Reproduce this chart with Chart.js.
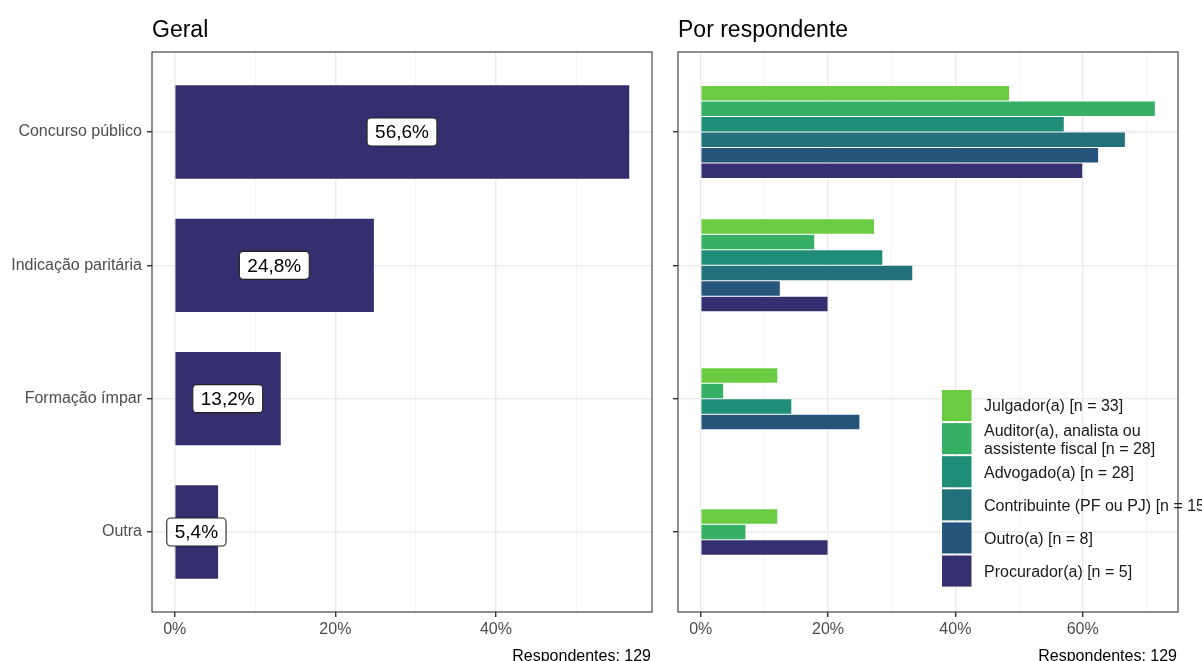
<!DOCTYPE html>
<html lang="pt-BR">
<head>
<meta charset="utf-8">
<title>Forma de composição</title>
<script src="https://cdn.jsdelivr.net/npm/chart.js@4.4.1/dist/chart.umd.min.js"></script>
<style>
  html, body { margin: 0; padding: 0; background: #fff; }
  #wrap { position: relative; width: 1202px; height: 661px; overflow: hidden; }
  canvas { position: absolute; top: 0; }
  #geral { left: 0; width: 660px; height: 661px; }
  #grupo { left: 660px; width: 542px; height: 661px; }
</style>
</head>
<body>
<div id="wrap">
  <canvas id="geral" width="660" height="661"></canvas>
  <canvas id="grupo" width="542" height="661"></canvas>
</div>
<script>
/* ---- Dados ---- */
const categorias = ['Concurso público', 'Indicação paritária', 'Formação ímpar', 'Outra'];
const geral = [56.6, 24.8, 13.2, 5.4];

const respondentes = [
  'Julgador(a) [n = 33]',
  'Auditor(a), analista ou\nassistente fiscal [n = 28]',
  'Advogado(a) [n = 28]',
  'Contribuinte (PF ou PJ) [n = 15]',
  'Outro(a) [n = 8]',
  'Procurador(a) [n = 5]',
];
// % por categoria (null = sem resposta)
const julgador     = [48.5, 27.3, 12.1, 12.1];
const auditor      = [71.4, 17.9, 3.6, 7.1];
const advogado     = [57.1, 28.6, 14.3, null];
const contribuinte = [66.7, 33.3, null, null];
const outro        = [62.5, 12.5, 25.0, null];
const procurador   = [60.0, 20.0, null, 20.0];

const ticksGeral = [0, 10, 20, 30, 40, 50];
const ticksGrupo = [0, 10, 20, 30, 40, 50, 60, 70];
const titulos = ['Geral', 'Por respondente'];
const rodape = 'Respondentes: 129';

/* ---- Estilo ---- */
const FONTE = "'Liberation Sans', Arial, sans-serif";
const cores = ['#6BCC44', '#35B065', '#1F8D77', '#21707A', '#26557C', '#35306F'];
const corGeral = '#34306F';

Chart.defaults.font.family = FONTE;
Chart.defaults.font.size = 16;
Chart.defaults.color = '#4D4D4D';

const ehMaior = (c) => c.tick && c.tick.value % 20 === 0;

function eixoX(maximo, ticks) {
  return {
    type: 'linear',
    min: -0.05 * maximo,
    max: 1.05 * maximo,
    afterBuildTicks: (s) => { s.ticks = ticks.map(v => ({ value: v })); },
    afterFit: (s) => { s.height = 49; },
    grid: {
      color: (c) => ehMaior(c) ? '#EBEBEB' : '#F3F3F3',
      lineWidth: (c) => ehMaior(c) ? 1.4 : 0.9,
      tickColor: (c) => ehMaior(c) ? '#333333' : 'rgba(0,0,0,0)',
      tickLength: 5,
    },
    border: { display: false },
    ticks: {
      callback: (v) => v % 20 === 0 ? v + '%' : '',
      padding: 3,
      maxRotation: 0,
      autoSkip: false,
      color: '#4D4D4D',
    },
  };
}

function eixoY(largura, comRotulos) {
  return {
    type: 'linear',
    reverse: true,
    offset: false,
    min: 0.4,
    max: categorias.length + 0.6,
    afterBuildTicks: (s) => { s.ticks = categorias.map((_, i) => ({ value: i + 1 })); },
    afterFit: (s) => { s.width = largura; },
    grid: { offset: false, color: '#EBEBEB', lineWidth: 1.4, tickColor: '#333333', tickLength: 5 },
    border: { display: false },
    ticks: {
      callback: (v) => comRotulos ? categorias[v - 1] : '',
      padding: 5,
      autoSkip: false,
      color: '#4D4D4D',
    },
  };
}

/* ---- Plugins ---- */
const moldura = {
  id: 'moldura',
  afterDraw(chart, args, opts) {
    const { ctx, chartArea: a } = chart;
    ctx.save();
    ctx.strokeStyle = '#333333';
    ctx.lineWidth = 1.1;
    ctx.strokeRect(a.left, a.top, a.right - a.left, a.bottom - a.top);
    ctx.fillStyle = '#000';
    ctx.font = `23px ${FONTE}`;
    ctx.textAlign = 'left';
    ctx.textBaseline = 'alphabetic';
    ctx.fillText(opts.titulo, a.left, 37);
    ctx.font = `16px ${FONTE}`;
    ctx.textAlign = 'right';
    ctx.fillText(opts.rodape, a.right - 1, 661);
    ctx.restore();
  },
};

const rotulosBarras = {
  id: 'rotulosBarras',
  afterDatasetsDraw(chart) {
    const { ctx, scales: { x, y } } = chart;
    ctx.save();
    ctx.font = `19px ${FONTE}`;
    ctx.textAlign = 'center';
    ctx.textBaseline = 'middle';
    geral.forEach((v, i) => {
      const txt = v.toFixed(1).replace('.', ',') + '%';
      const cx = x.getPixelForValue(v / 2);
      const cy = y.getPixelForValue(i + 1);
      const w = ctx.measureText(txt).width + 16;
      const h = 28;
      ctx.beginPath();
      ctx.roundRect(cx - w / 2, cy - h / 2, w, h, 4);
      ctx.fillStyle = '#fff';
      ctx.fill();
      ctx.strokeStyle = '#222';
      ctx.lineWidth = 1.1;
      ctx.stroke();
      ctx.fillStyle = '#000';
      ctx.fillText(txt, cx, cy + 1);
    });
    ctx.restore();
  },
};

const legendaGrupos = {
  id: 'legendaGrupos',
  afterDraw(chart) {
    const { ctx, chartArea: a } = chart;
    const x0 = a.left + 264;
    const y0 = a.top + 337;
    const passo = 33.1;
    const lado = 29.5;
    ctx.save();
    ctx.font = `16px ${FONTE}`;
    ctx.textAlign = 'left';
    ctx.textBaseline = 'middle';
    chart.data.datasets.forEach((ds, i) => {
      const topo = y0 + i * passo;
      ctx.fillStyle = ds.backgroundColor;
      ctx.fillRect(x0, topo + 1, lado, passo - 2);
      const linhas = ds.label.split('\n');
      const meio = topo + passo / 2 + 1.5;
      ctx.fillStyle = '#1A1A1A';
      linhas.forEach((l, k) => {
        ctx.fillText(l, x0 + 42, meio + (k - (linhas.length - 1) / 2) * 18);
      });
    });
    ctx.restore();
  },
};

/* ---- Gráficos ---- */
const base = {
  indexAxis: 'y',
  responsive: false,
  animation: false,
  events: [],
};

new Chart(document.getElementById('geral'), {
  type: 'bar',
  data: {
    datasets: [{
      label: titulos[0],
      data: geral.map((v, i) => ({ x: v, y: i + 1 })),
      backgroundColor: corGeral,
      borderWidth: 0,
      barPercentage: 0.7,
      categoryPercentage: 1,
    }],
  },
  options: {
    ...base,
    layout: { padding: { left: 0, right: 8, top: 52, bottom: 0 } },
    plugins: {
      legend: { display: false },
      tooltip: { enabled: false },
      moldura: { titulo: titulos[0], rodape },
    },
    scales: {
      x: eixoX(Math.max(...geral), ticksGeral),
      y: eixoY(152, true),
    },
  },
  plugins: [rotulosBarras, moldura],
});

const series = [julgador, auditor, advogado, contribuinte, outro, procurador];
const maxGrupo = Math.max(...series.flat().filter(v => v !== null));

new Chart(document.getElementById('grupo'), {
  type: 'bar',
  data: {
    datasets: series.map((vals, k) => ({
      label: respondentes[k],
      data: vals.map((v, i) => ({ x: v, y: i + 1 })).filter(p => p.x !== null),
      backgroundColor: cores[k],
      borderColor: 'rgba(255,255,255,0.55)',
      borderWidth: 0.8,
      barThickness: 15.5,
      skipNull: true,
    })),
  },
  options: {
    ...base,
    layout: { padding: { left: 0, right: 24, top: 52, bottom: 0 } },
    plugins: {
      legend: { display: false },
      tooltip: { enabled: false },
      moldura: { titulo: titulos[1], rodape },
    },
    scales: {
      x: eixoX(maxGrupo, ticksGrupo),
      y: eixoY(18, false),
    },
  },
  plugins: [moldura, legendaGrupos],
});
</script>
</body>
</html>
